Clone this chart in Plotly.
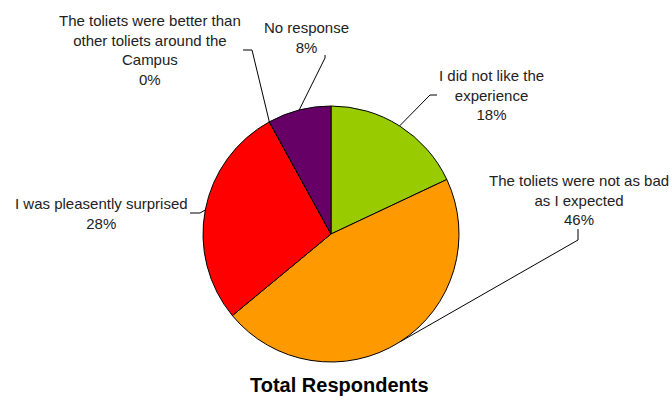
import math
import plotly.graph_objects as go

# ---- data ----
categories = [
    "I did not like the experience",
    "The toliets were not as bad as I expected",
    "I was pleasently surprised",
    "The toliets were better than other toliets around the Campus",
    "No response",
]
wrapped_labels = [
    "I did not like the<br>experience",
    "The toliets were not as bad<br>as I expected",
    "I was pleasently surprised",
    "The toliets were better than<br>other toliets around the<br>Campus",
    "No response",
]
values = [18, 46, 28, 0, 8]
colors = ["#99CC00", "#FF9900", "#FF0000", "#FF0000", "#660066"]
title_text = "Total Respondents"

# ---- layout constants (pixels) ----
W, H = 672, 401
CX, CY, R = 331, 234, 128
# label centre positions and leader-line elbows / ends
label_pos = [(491, 95), (579, 200), (102, 214), (150, 50), (306, 38)]
elbows = [((430, 95), (437, 95)),
          ((578, 240), (578, 229)),
          ((200, 213), (190, 213)),
          ((252, 50), (243, 50)),
          ((325, 58), (325, 55))]


def px(x):
    return x / W


def py(y):
    return 1 - y / H


fig = go.Figure(go.Pie(
    labels=categories,
    values=values,
    sort=False,
    direction="clockwise",
    rotation=0,
    marker=dict(colors=colors, line=dict(color="#000000", width=1)),
    textinfo="none",
    hoverinfo="label+percent",
    showlegend=False,
    domain=dict(x=[px(CX - R), px(CX + R)], y=[py(CY + R), py(CY - R)]),
))

total = sum(values)
cum = 0
shapes = []
annotations = []
for i, v in enumerate(values):
    mid = (cum + v / 2) / total
    cum += v
    ang = 2 * math.pi * mid
    ex = CX + R * math.sin(ang)
    ey = CY - R * math.cos(ang)
    (bx, by), (tx, ty) = elbows[i]
    path = f"M {px(ex)},{py(ey)} L {px(bx)},{py(by)} L {px(tx)},{py(ty)}"
    shapes.append(dict(type="path", xref="paper", yref="paper", path=path,
                       line=dict(color="#000000", width=1)))
    pct = round(100 * v / total)
    lx, ly = label_pos[i]
    annotations.append(dict(
        x=px(lx), y=py(ly), xref="paper", yref="paper",
        text=f"{wrapped_labels[i]}<br>{pct}%", showarrow=False,
        xanchor="center", yanchor="middle", align="center",
        font=dict(family="Arial, Liberation Sans, sans-serif", size=15, color="#222222"),
    ))

annotations.append(dict(
    x=px(339), y=py(385), xref="paper", yref="paper",
    text=f"<b>{title_text}</b>", showarrow=False,
    xanchor="center", yanchor="middle",
    font=dict(family="Arial, Liberation Sans, sans-serif", size=20, color="#000000"),
))

fig.update_layout(
    width=W, height=H,
    margin=dict(l=0, r=0, t=0, b=0),
    paper_bgcolor="white", plot_bgcolor="white",
    shapes=shapes, annotations=annotations,
)

fig.write_html("out.html",
               config={"displayModeBar": False},
               post_script="document.body.style.margin='0';document.body.style.padding='0';")
